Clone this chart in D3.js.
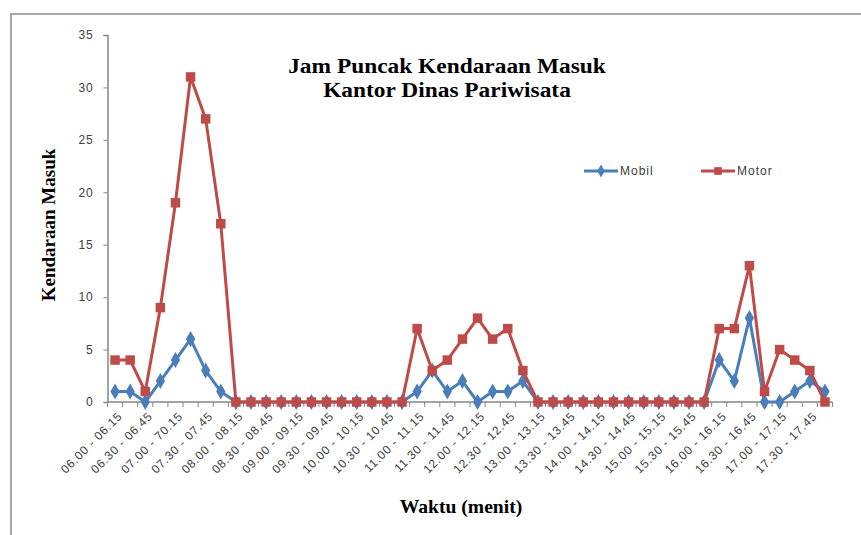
<!DOCTYPE html>
<html>
<head>
<meta charset="utf-8">
<script src="https://cdn.jsdelivr.net/npm/d3@7"></script>
<style>
  body { margin: 0; background: #fff; }
  svg { display: block; }
  .tick text { font-family: "Liberation Sans", Arial, sans-serif; font-size: 12px; letter-spacing: 0.8px; fill: #404040; }
</style>
</head>
<body>
<svg width="861" height="535"></svg>
<script>
// categories (15 minute intervals), label text as in the original
var categories = [
  "06.00 - 06.15", "06.15 - 06.30", "06.30 - 06.45", "06.45 - 07.00",
  "07.00 - 70.15", "07.15 - 07.30", "07.30 - 07.45", "07.45 - 08.00",
  "08.00 - 08.15", "08.15 - 08.30", "08.30 - 08.45", "08.45 - 09.00",
  "09.00 - 09.15", "09.15 - 09.30", "09.30 - 09.45", "09.45 - 10.00",
  "10.00 - 10.15", "10.15 - 10.30", "10.30 - 10.45", "10.45 - 11.00",
  "11.00 - 11.15", "11.15 - 11.30", "11.30 - 11.45", "11.45 - 12.00",
  "12.00 - 12.15", "12.15 - 12.30", "12.30 - 12.45", "12.45 - 13.00",
  "13.00 - 13.15", "13.15 - 13.30", "13.30 - 13.45", "13.45 - 14.00",
  "14.00 - 14.15", "14.15 - 14.30", "14.30 - 14.45", "14.45 - 15.00",
  "15.00 - 15.15", "15.15 - 15.30", "15.30 - 15.45", "15.45 - 16.00",
  "16.00 - 16.15", "16.15 - 16.30", "16.30 - 16.45", "16.45 - 17.00",
  "17.00 - 17.15", "17.15 - 17.30", "17.30 - 17.45", "17.45 - 18.00"
];

var mobil = [1, 1, 0, 2, 4, 6, 3, 1, 0, 0, 0, 0, 0, 0, 0, 0,
             0, 0, 0, 0, 1, 3, 1, 2, 0, 1, 1, 2, 0, 0, 0, 0,
             0, 0, 0, 0, 0, 0, 0, 0, 4, 2, 8, 0, 0, 1, 2, 1];
var motor = [4, 4, 1, 9, 19, 31, 27, 17, 0, 0, 0, 0, 0, 0, 0, 0,
             0, 0, 0, 0, 7, 3, 4, 6, 8, 6, 7, 3, 0, 0, 0, 0,
             0, 0, 0, 0, 0, 0, 0, 0, 7, 7, 13, 1, 5, 4, 3, 0];

var yTicks = [0, 5, 10, 15, 20, 25, 30, 35];

var svg = d3.select("svg");

// outer chart frame (cropped by the picture edge)
svg.append("rect")
    .attr("x", 11).attr("y", 14)
    .attr("width", 900).attr("height", 600)
    .attr("fill", "none")
    .attr("stroke", "#a6a6a6")
    .attr("stroke-width", 2);

var plotLeft = 107.5, plotRight = 832.5, plotTop = 35, plotBottom = 402;

var x = d3.scaleBand().domain(categories).range([plotLeft, plotRight]);
var y = d3.scaleLinear().domain([0, 35]).range([plotBottom, plotTop]);

// y axis
var yAxis = svg.append("g")
    .attr("transform", "translate(" + plotLeft + ",0)")
    .call(d3.axisLeft(y).tickValues(yTicks).tickSize(4).tickPadding(10));
yAxis.select(".domain").attr("stroke", "#868686").attr("stroke-width", 1.5);
yAxis.selectAll(".tick line").attr("stroke", "#868686");

// x axis: tick marks on every category boundary
var xAxis = svg.append("g")
    .attr("transform", "translate(0," + plotBottom + ")");
xAxis.append("line")
    .attr("x1", plotLeft).attr("x2", plotRight)
    .attr("stroke", "#868686").attr("stroke-width", 1.5);
xAxis.selectAll("line.tk")
    .data(d3.range(categories.length + 1))
    .enter().append("line")
    .attr("class", "tk")
    .attr("x1", function(i) { return plotLeft + i * x.step(); })
    .attr("x2", function(i) { return plotLeft + i * x.step(); })
    .attr("y1", 0).attr("y2", 5)
    .attr("stroke", "#868686");

// every second category gets a label
xAxis.selectAll("text")
    .data(categories.filter(function(d, i) { return i % 2 === 0; }))
    .enter().append("text")
    .attr("transform", function(d) {
        return "translate(" + (x(d) + x.bandwidth() / 2 + 5) + ",12) rotate(-45)";
    })
    .attr("text-anchor", "end")
    .attr("dy", "0.35em")
    .style("font-family", "'Liberation Sans', Arial, sans-serif")
    .style("font-size", "12px")
    .style("letter-spacing", "0.8px")
    .style("fill", "#404040")
    .text(function(d) { return d; });

var series = [
    { name: "Mobil", values: mobil, color: "#4a7ebb", marker: d3.symbolDiamond, size: 75 },
    { name: "Motor", values: motor, color: "#be4b48", marker: d3.symbolSquare, size: 90 }
];

var line = d3.line()
    .x(function(d, i) { return x(categories[i]) + x.bandwidth() / 2; })
    .y(function(d) { return y(d); });

series.forEach(function(s) {
    svg.append("path")
        .datum(s.values)
        .attr("fill", "none")
        .attr("stroke", s.color)
        .attr("stroke-width", 3)
        .attr("stroke-linejoin", "round")
        .attr("d", line);
    svg.append("g").selectAll("path")
        .data(s.values)
        .enter().append("path")
        .attr("transform", function(d, i) {
            return "translate(" + (x(categories[i]) + x.bandwidth() / 2) + "," + y(d) + ")";
        })
        .attr("d", d3.symbol().type(s.marker).size(s.size))
        .attr("fill", s.color);
});

// legend
var legend = svg.append("g");
var legX = [584, 701];
series.forEach(function(s, i) {
    var g = legend.append("g").attr("transform", "translate(" + legX[i] + ",171)");
    g.append("line").attr("x1", 0).attr("x2", 34)
        .attr("stroke", s.color).attr("stroke-width", 3);
    g.append("path").attr("transform", "translate(17,0)")
        .attr("d", d3.symbol().type(s.marker).size(s.size * 0.65))
        .attr("fill", s.color);
    g.append("text").attr("x", 36).attr("dy", "0.35em")
        .style("font-family", "'Liberation Sans', Arial, sans-serif")
        .style("font-size", "12px")
        .style("letter-spacing", "1px")
        .style("fill", "#404040")
        .text(s.name);
});

// titles
var title = svg.append("text")
    .attr("transform", "translate(447,0) scale(1.17,1)")
    .attr("text-anchor", "middle")
    .style("font-family", "'Liberation Serif', 'Times New Roman', serif")
    .style("font-weight", "bold")
    .style("font-size", "20px")
    .style("fill", "#000");
title.append("tspan").attr("x", 0).attr("y", 73).text("Jam Puncak Kendaraan Masuk");
title.append("tspan").attr("x", 0).attr("y", 97).text("Kantor Dinas Pariwisata");

svg.append("text")
    .attr("transform", "translate(55,225) rotate(-90)")
    .attr("text-anchor", "middle")
    .style("font-family", "'Liberation Serif', 'Times New Roman', serif")
    .style("font-weight", "bold")
    .style("font-size", "19px")
    .text("Kendaraan Masuk");

svg.append("text")
    .attr("transform", "translate(461,513) scale(1.09,1)")
    .attr("text-anchor", "middle")
    .style("font-family", "'Liberation Serif', 'Times New Roman', serif")
    .style("font-weight", "bold")
    .style("font-size", "18px")
    .text("Waktu (menit)");
</script>
</body>
</html>
